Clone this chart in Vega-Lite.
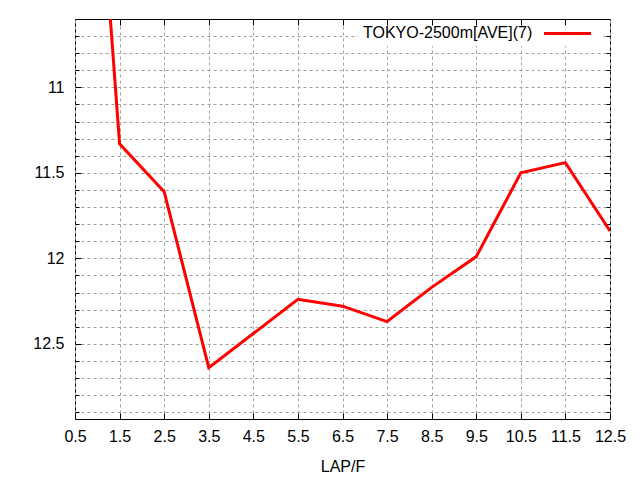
{
  "$schema": "https://vega.github.io/schema/vega-lite/v6.json",
  "width": 535,
  "height": 400,
  "autosize": "none",
  "padding": {"left": 75, "top": 19, "right": 30, "bottom": 61},
  "background": "white",
  "config": {
    "font": "Liberation Sans",
    "view": {"stroke": "black", "strokeWidth": 1},
    "axis": {
      "labelFont": "Liberation Sans",
      "labelFontSize": 16,
      "labelColor": "black",
      "titleFont": "Liberation Sans",
      "titleFontSize": 16,
      "titleFontWeight": "normal",
      "titleColor": "black",
      "tickColor": "black",
      "domain": false,
      "gridColor": "#a0a0a0",
      "gridDash": [3, 3],
      "gridWidth": 1,
      "gridOpacity": 1
    }
  },
  "data": {
    "values": [
      {"lap": 0.5, "time": 7.8, "series": "TOKYO-2500m[AVE](7)"},
      {"lap": 1.5, "time": 11.33, "series": "TOKYO-2500m[AVE](7)"},
      {"lap": 2.5, "time": 11.61, "series": "TOKYO-2500m[AVE](7)"},
      {"lap": 3.5, "time": 12.64, "series": "TOKYO-2500m[AVE](7)"},
      {"lap": 4.5, "time": 12.44, "series": "TOKYO-2500m[AVE](7)"},
      {"lap": 5.5, "time": 12.24, "series": "TOKYO-2500m[AVE](7)"},
      {"lap": 6.5, "time": 12.28, "series": "TOKYO-2500m[AVE](7)"},
      {"lap": 7.5, "time": 12.37, "series": "TOKYO-2500m[AVE](7)"},
      {"lap": 8.5, "time": 12.17, "series": "TOKYO-2500m[AVE](7)"},
      {"lap": 9.5, "time": 11.99, "series": "TOKYO-2500m[AVE](7)"},
      {"lap": 10.5, "time": 11.5, "series": "TOKYO-2500m[AVE](7)"},
      {"lap": 11.5, "time": 11.44, "series": "TOKYO-2500m[AVE](7)"},
      {"lap": 12.5, "time": 11.84, "series": "TOKYO-2500m[AVE](7)"}
    ]
  },
  "layer": [
    {
      "mark": {"type": "line", "strokeWidth": 3, "clip": true},
      "encoding": {
        "x": {
          "field": "lap",
          "type": "quantitative",
          "scale": {"domain": [0.5, 12.5], "nice": false, "zero": false},
          "axis": {
            "orient": "bottom",
            "title": "LAP/F",
            "titlePadding": 14,
            "values": [0.5, 1.5, 2.5, 3.5, 4.5, 5.5, 6.5, 7.5, 8.5, 9.5, 10.5, 11.5, 12.5],
            "format": ".1f",
            "grid": true,
            "tickSize": -6,
            "labelPadding": 15,
            "labelFlush": false,
            "labelOverlap": false
          }
        },
        "y": {
          "field": "time",
          "type": "quantitative",
          "scale": {"domain": [10.6, 12.94], "reverse": true, "nice": false, "zero": false},
          "axis": {
            "orient": "left",
            "title": null,
            "values": [10.7, 10.8, 10.9, 11, 11.1, 11.2, 11.3, 11.4, 11.5, 11.6, 11.7, 11.8, 11.9, 12, 12.1, 12.2, 12.3, 12.4, 12.5, 12.6, 12.7, 12.8, 12.9],
            "labelExpr": "indexof(['11','11.5','12','12.5'], format(datum.value, '')) >= 0 ? format(datum.value, '') : ''",
            "grid": true,
            "tickSize": {"condition": {"test": "indexof(['11','11.5','12','12.5'], format(datum.value, '')) >= 0", "value": -6}, "value": -4},
            "labelPadding": 17,
            "labelFlush": false,
            "labelOverlap": false
          }
        },
        "color": {
          "field": "series",
          "type": "nominal",
          "scale": {"range": ["red"]},
          "legend": {
            "title": "TOKYO-2500m[AVE](7)",
            "orient": "none",
            "legendX": 283,
            "legendY": 2,
            "zindex": 1,
            "fillColor": "white",
            "padding": 5,
            "titleOrient": "left",
            "titleAnchor": "middle",
            "titleBaseline": "middle",
            "titleFont": "Liberation Sans",
            "titleFontSize": 16,
            "titleFontWeight": "normal",
            "titleColor": "black",
            "titlePadding": 27,
            "labelExpr": "''",
            "symbolType": "M-4,0H4",
            "symbolSize": 138,
            "symbolStrokeWidth": 3
          }
        }
      }
    },
    {
      "mark": {"type": "line", "strokeOpacity": 0, "clip": true},
      "encoding": {
        "x": {
          "field": "lap",
          "type": "quantitative",
          "axis": {
            "orient": "top",
            "title": null,
            "zindex": 2,
            "values": [1.5, 2.5, 3.5, 4.5, 5.5, 6.5, 7.5, 8.5, 9.5, 10.5, 11.5],
            "labels": false,
            "grid": false,
            "tickSize": -6
          }
        },
        "y": {
          "field": "time",
          "type": "quantitative",
          "axis": {
            "orient": "right",
            "title": null,
            "values": [10.7, 10.8, 10.9, 11, 11.1, 11.2, 11.3, 11.4, 11.5, 11.6, 11.7, 11.8, 11.9, 12, 12.1, 12.2, 12.3, 12.4, 12.5, 12.6, 12.7, 12.8, 12.9],
            "labels": false,
            "grid": false,
            "tickSize": {"condition": {"test": "indexof(['11','11.5','12','12.5'], format(datum.value, '')) >= 0", "value": -6}, "value": -4}
          }
        }
      }
    }
  ],
  "resolve": {"axis": {"x": "independent", "y": "independent"}}
}
